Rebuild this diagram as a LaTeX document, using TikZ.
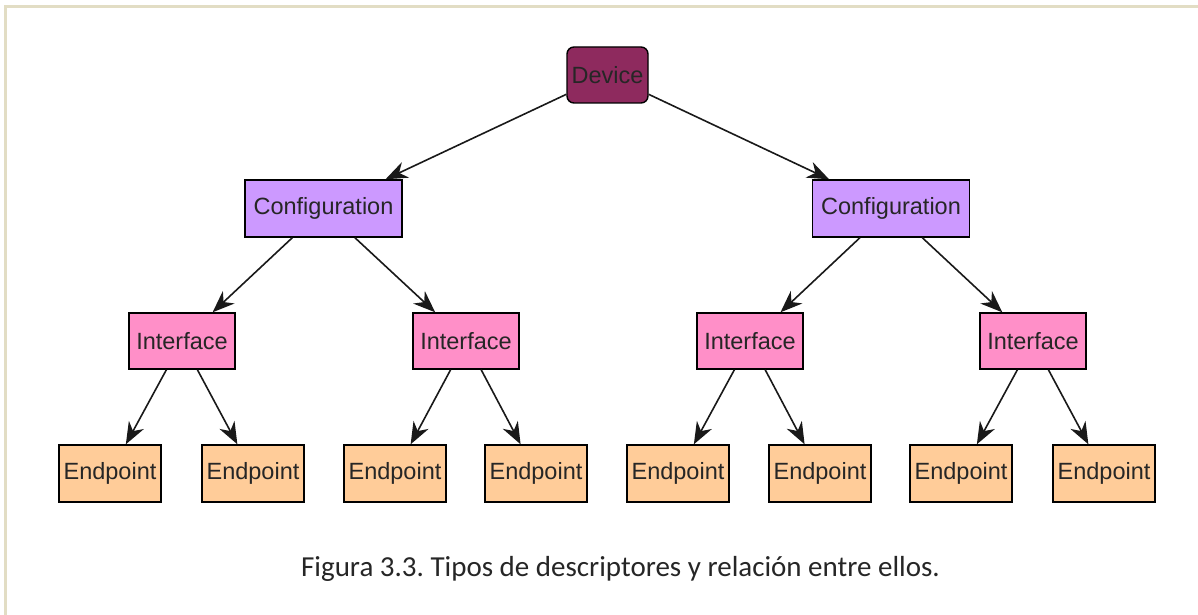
\documentclass[tikz,border=0pt]{standalone}
\usepackage{fontspec}
\setmainfont{Liberation Sans}
\newfontfamily\capfont{Carlito}
\usetikzlibrary{arrows.meta}

\definecolor{frameline}{HTML}{E2DDC4}
\definecolor{devfill}{HTML}{8E2A5E}
\definecolor{cfgfill}{HTML}{CC99FF}
\definecolor{ifcfill}{HTML}{FF8FC8}
\definecolor{epfill}{HTML}{FFCC99}

\begin{document}
\frenchspacing
\begin{tikzpicture}[x=1pt,y=-1pt,
  box/.style={draw=black,line width=1.4pt,inner sep=0pt,minimum height=56pt,
    text=black!85,font=\fontsize{23.5}{26}\selectfont},
  devbox/.style={box,fill=devfill,rounded corners=7pt,minimum width=81pt},
  cfgbox/.style={box,fill=cfgfill,minimum width=157pt,minimum height=57pt},
  ifcbox/.style={box,fill=ifcfill,minimum width=106pt},
  epbox/.style={box,fill=epfill,minimum width=102pt,minimum height=57pt},
  arr/.style={draw=black!90,line width=1.6pt,
    -{Stealth[length=22pt,width=17pt,inset=7pt]}}
]
\useasboundingbox (0,0) rectangle (1198,615);
\fill[white] (0,0) rectangle (1198,615);
\draw[frameline,line width=3pt] (5,615) -- (5,7) -- (1198,7);

\node[devbox] (dev) at (607.5,75) {Device};

\node[cfgbox] (cfgA) at (323.5,208.5) {Configuration};
\node[cfgbox] (cfgB) at (891,208.5) {Configuration};

\node[ifcbox] (ifcA) at (182,341) {Interface};
\node[ifcbox] (ifcB) at (466,341) {Interface};
\node[ifcbox] (ifcC) at (750,341) {Interface};
\node[ifcbox] (ifcD) at (1033,341) {Interface};

\node[epbox] (epA1) at (110,473.5) {Endpoint};
\node[epbox] (epA2) at (253,473.5) {Endpoint};
\node[epbox] (epB1) at (395,473.5) {Endpoint};
\node[epbox] (epB2) at (536,473.5) {Endpoint};
\node[epbox] (epC1) at (678,473.5) {Endpoint};
\node[epbox] (epC2) at (820,473.5) {Endpoint};
\node[epbox] (epD1) at (961,473.5) {Endpoint};
\node[epbox] (epD2) at (1104,473.5) {Endpoint};

\draw[arr] (dev) -- (cfgA);
\draw[arr] (dev) -- (cfgB);
\draw[arr] (cfgA) -- (ifcA);
\draw[arr] (cfgA) -- (ifcB);
\draw[arr] (cfgB) -- (ifcC);
\draw[arr] (cfgB) -- (ifcD);
\foreach \i in {A,B,C,D}{
  \draw[arr] (ifc\i) -- (ep\i1);
  \draw[arr] (ifc\i) -- (ep\i2);
}

\node[font=\capfont\fontsize{29}{34}\selectfont,text=black!85] (caption) at (620.5,569)
  {Figura 3.3. Tipos de descriptores y relación entre ellos.};
\end{tikzpicture}
\end{document}
